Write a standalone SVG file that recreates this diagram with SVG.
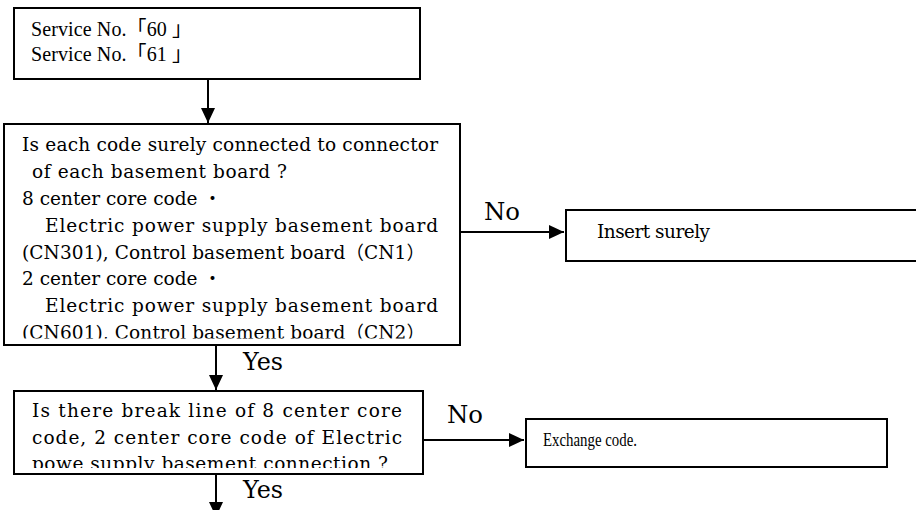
<svg xmlns="http://www.w3.org/2000/svg" width="916" height="510" viewBox="0 0 916 510">
<style>
.box{fill:#fff;stroke:#000;stroke-width:2}
.t{font-family:"DejaVu Serif","Noto Sans CJK JP",serif;font-size:18.5px;fill:#000}
.s{font-family:"Liberation Serif","Noto Sans CJK JP",serif;font-size:20px;fill:#000}
.e{font-family:"Liberation Serif",serif;font-size:18px;fill:#000}
.lab{font-family:"DejaVu Serif","Liberation Serif",serif;font-size:24px;fill:#000}
.c{fill:none;stroke:#000;stroke-width:2}
</style>
<defs>
<marker id="ah" viewBox="0 0 15 16" refX="15" refY="8" markerWidth="15" markerHeight="16" markerUnits="userSpaceOnUse" orient="auto"><path d="M0,1 L15,8 L0,15 z" fill="#000"/></marker>
<clipPath id="c2"><rect x="5" y="125" width="454" height="213.5"/></clipPath>
<clipPath id="c3"><rect x="15" y="392" width="407" height="76"/></clipPath>
</defs>
<g id="n1">
<rect class="box" x="14" y="8" width="406" height="71"/>
<text class="s" x="31" y="36" textLength="161" lengthAdjust="spacing">Service No.「60 」</text>
<text class="s" x="31" y="61" textLength="161" lengthAdjust="spacing">Service No.「61 」</text>
</g>
<g id="n2">
<rect class="box" x="4" y="124" width="456" height="221"/>
<g clip-path="url(#c2)">
<text class="t" x="22" y="151" textLength="416" lengthAdjust="spacing">Is each code surely connected to connector</text>
<text class="t" x="32" y="178" textLength="255" lengthAdjust="spacing">of each basement board ?</text>
<text class="t" x="22" y="205">8 center core code ・</text>
<text class="t" x="45" y="232" textLength="393" lengthAdjust="spacing">Electric power supply basement board</text>
<text class="t" x="22" y="258.5" textLength="403" lengthAdjust="spacing">(CN301), Control basement board（CN1）</text>
<text class="t" x="22" y="285">2 center core code ・</text>
<text class="t" x="45" y="312" textLength="393" lengthAdjust="spacing">Electric power supply basement board</text>
<text class="t" x="22" y="339" textLength="403" lengthAdjust="spacing">(CN601), Control basement board（CN2）</text>
</g>
</g>
<g id="n3">
<rect class="box" x="566" y="210" width="360" height="51"/>
<text class="t" x="597" y="238" textLength="113" lengthAdjust="spacing">Insert surely</text>
</g>
<g id="n4">
<rect class="box" x="14" y="391" width="409" height="83"/>
<g clip-path="url(#c3)">
<text class="t" x="32" y="417" textLength="370" lengthAdjust="spacing">Is there break line of 8 center core</text>
<text class="t" x="32" y="443.5" textLength="370" lengthAdjust="spacing">code, 2 center core code of Electric</text>
<text class="t" x="32" y="470" textLength="356" lengthAdjust="spacing">powe supply basement connection ?</text>
</g>
</g>
<g id="n5">
<rect class="box" x="526" y="419" width="361" height="48"/>
<text class="e" x="543" y="446" textLength="94" lengthAdjust="spacingAndGlyphs">Exchange code.</text>
</g>
<g id="connectors">
<path class="c" d="M208,79 L208,123" marker-end="url(#ah)"/>
<path class="c" d="M216,345 L216,390" marker-end="url(#ah)"/>
<path class="c" d="M216,474 L216,517" marker-end="url(#ah)"/>
<path class="c" d="M460,232 L564,232" marker-end="url(#ah)"/>
<path class="c" d="M423,440 L524,440" marker-end="url(#ah)"/>
<text class="lab" x="484" y="220" textLength="36" lengthAdjust="spacingAndGlyphs">No</text>
<text class="lab" x="243" y="370" textLength="40" lengthAdjust="spacingAndGlyphs">Yes</text>
<text class="lab" x="447" y="423" textLength="36" lengthAdjust="spacingAndGlyphs">No</text>
<text class="lab" x="243" y="498" textLength="40" lengthAdjust="spacingAndGlyphs">Yes</text>
</g>
</svg>
